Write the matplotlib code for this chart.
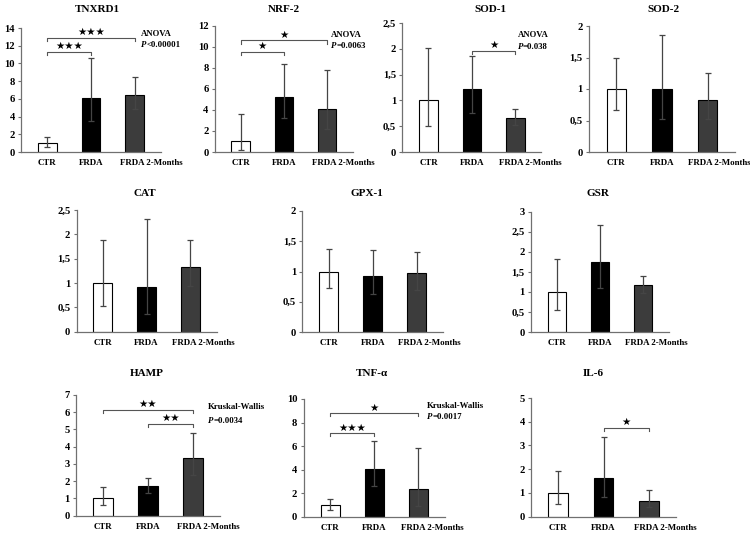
import matplotlib
matplotlib.use('Agg')
import matplotlib.pyplot as plt
from matplotlib.ticker import FuncFormatter, MultipleLocator
from matplotlib.transforms import ScaledTranslation

plt.rcParams['font.family'] = ['Liberation Serif', 'DejaVu Sans']
plt.rcParams['font.weight'] = 'bold'

# --- datos ---
groups = ['CTR', 'FRDA', 'FRDA 2-Months']

tnxrd1_mean = [1.0, 6.1, 6.4]
tnxrd1_lo = [0.6, 3.5, 4.8]
tnxrd1_hi = [1.75, 10.6, 8.45]

nrf2_mean = [1.0, 5.2, 4.1]
nrf2_lo = [0.2, 3.2, 2.2]
nrf2_hi = [3.65, 8.35, 7.75]

sod1_mean = [1.0, 1.22, 0.65]
sod1_lo = [0.5, 0.75, 0.52]
sod1_hi = [2.02, 1.87, 0.83]

sod2_mean = [1.0, 1.0, 0.82]
sod2_lo = [0.67, 0.53, 0.53]
sod2_hi = [1.49, 1.86, 1.26]

cat_mean = [1.0, 0.92, 1.33]
cat_lo = [0.53, 0.37, 0.93]
cat_hi = [1.88, 2.31, 1.89]

gpx1_mean = [1.0, 0.93, 0.97]
gpx1_lo = [0.73, 0.63, 0.7]
gpx1_hi = [1.37, 1.35, 1.32]

gsr_mean = [1.0, 1.75, 1.18]
gsr_lo = [0.55, 1.1, 0.98]
gsr_hi = [1.83, 2.68, 1.39]

hamp_mean = [1.0, 1.72, 3.35]
hamp_lo = [0.6, 1.3, 2.35]
hamp_hi = [1.68, 2.18, 4.78]

tnfa_mean = [1.0, 4.1, 2.4]
tnfa_lo = [0.63, 2.6, 0.97]
tnfa_hi = [1.5, 6.45, 5.85]

il6_mean = [1.0, 1.65, 0.67]
il6_lo = [0.52, 0.83, 0.4]
il6_hi = [1.93, 3.35, 1.12]

bar_colors = ['white', 'black', '#3c3c3c']

W, H = 750, 534
fig = plt.figure(figsize=(7.5, 5.34), dpi=100)
fig.patch.set_facecolor('white')

coma = FuncFormatter(lambda v, p: f"{v:g}".replace('.', ','))


def panel(rect, title, title_xy, mean, lo, hi, ymax, ystep, brackets=(), test=None, shift=14):
    l, t, r, b = rect
    ax = fig.add_axes([l / W, 1 - b / H, (r - l) / W, (b - t) / H])
    x = list(range(len(groups)))
    ax.bar(x, mean, width=0.43, color=bar_colors, edgecolor='black', linewidth=0.8, zorder=2)
    yerr = [[m - a for m, a in zip(mean, lo)], [c - m for m, c in zip(mean, hi)]]
    ax.errorbar(x, mean, yerr=yerr, fmt='none', ecolor='#454545', elinewidth=0.9,
                capsize=2.5, capthick=0.9, zorder=3)
    ax.set_xlim(-0.6, 2.6)
    ax.set_ylim(0, ymax)
    ax.yaxis.set_major_locator(MultipleLocator(ystep))
    ax.yaxis.set_major_formatter(coma)
    ax.set_xticks(x)
    ax.set_xticklabels(groups)
    for s in ['top', 'right']:
        ax.spines[s].set_visible(False)
    for s in ['left', 'bottom']:
        ax.spines[s].set_color('#707070')
        ax.spines[s].set_linewidth(0.9)
    ax.tick_params(axis='y', length=2.5, width=0.8, color='#707070', labelsize=7.6, pad=2)
    ax.tick_params(axis='x', length=0, labelsize=6.4, pad=5)
    for lab in ax.get_xticklabels() + ax.get_yticklabels():
        lab.set_fontweight('bold')
    # la etiqueta larga queda corrida a la derecha en el original
    lab3 = ax.get_xticklabels()[2]
    lab3.set_transform(lab3.get_transform() + ScaledTranslation(shift / 100, 0, fig.dpi_scale_trans))

    fig.text(title_xy[0] / W, 1 - title_xy[1] / H, title, ha='center', va='center',
             fontsize=8, fontweight='bold')

    drop = ymax * 0.025
    for i, j, yb, stars in brackets:
        ax.plot([i, i, j, j], [yb - drop, yb, yb, yb - drop], color='#555555', lw=0.8,
                clip_on=False, zorder=4)
        ax.text((i + j) / 2, yb + ymax * 0.005, stars, ha='center', va='bottom', fontsize=7.5,
                family=['DejaVu Sans'], color='black', clip_on=False)

    if test is not None:
        name, ptxt, tx, ty1, ty2 = test
        ax.text(tx, ty1, name, fontsize=6.3, fontweight='bold', va='center', ha='left')
        pt = ax.text(tx, ty2, 'P', fontsize=6.3, fontweight='bold', style='italic',
                     va='center', ha='left')
        ax.annotate(ptxt, xy=(1, 0), xycoords=pt, va='bottom', ha='left',
                    fontsize=6.3, fontweight='bold')
    return ax


# fila 1
panel((21, 28, 161, 152), 'TNXRD1', (97, 10), tnxrd1_mean, tnxrd1_lo, tnxrd1_hi, 14, 2,
      brackets=[(0, 1, 11.3, '★★★'), (0, 2, 12.9, '★★★')],
      test=('ANOVA', '<0.00001', 2.15, 13.3, 12.1), shift=17)
panel((214.8, 25.7, 352.8, 152), 'NRF-2', (284, 10), nrf2_mean, nrf2_lo, nrf2_hi, 12, 2,
      brackets=[(0, 1, 9.5, '★'), (0, 2, 10.6, '★')],
      test=('ANOVA', '=0.0063', 2.1, 11.1, 10.1), shift=16)
panel((402.4, 23, 541.4, 152), 'SOD-1', (490, 10), sod1_mean, sod1_lo, sod1_hi, 2.5, 0.5,
      brackets=[(1, 2, 1.96, '★')],
      test=('ANOVA', '=0.038', 2.05, 2.27, 2.04), shift=15)
panel((589, 26, 735, 152), 'SOD-2', (664, 10), sod2_mean, sod2_lo, sod2_hi, 2, 0.5, shift=12)

# fila 2
panel((76.5, 210, 216.5, 331.7), 'CAT', (145, 194), cat_mean, cat_lo, cat_hi, 2.5, 0.5, shift=13)
panel((302.2, 211, 443.2, 332), 'GPX-1', (367, 194), gpx1_mean, gpx1_lo, gpx1_hi, 2, 0.5, shift=13)
panel((531, 211.7, 669, 332), 'GSR', (598, 194), gsr_mean, gsr_lo, gsr_hi, 3, 0.5, shift=13)

# fila 3
panel((76, 395, 220, 515.7), 'HAMP', (147, 374), hamp_mean, hamp_lo, hamp_hi, 7, 1,
      brackets=[(1, 2, 5.32, '★★'), (0, 2, 6.13, '★★')],
      test=('Kruskal-Wallis', '=0.0034', 2.34, 6.29, 5.51), shift=15)
panel((303.6, 399, 444.6, 517), 'TNF-α', (372, 374), tnfa_mean, tnfa_lo, tnfa_hi, 10, 2,
      brackets=[(0, 1, 7.1, '★★★'), (0, 2, 8.8, '★')],
      test=('Kruskal-Wallis', '=0.0017', 2.2, 9.4, 8.5), shift=14)
panel((531, 398, 676, 516.7), 'IL-6', (593, 374), il6_mean, il6_lo, il6_hi, 5, 1,
      brackets=[(1, 2, 3.75, '★')], shift=16)

fig.savefig('out.png', dpi=100)
plt.close(fig)
